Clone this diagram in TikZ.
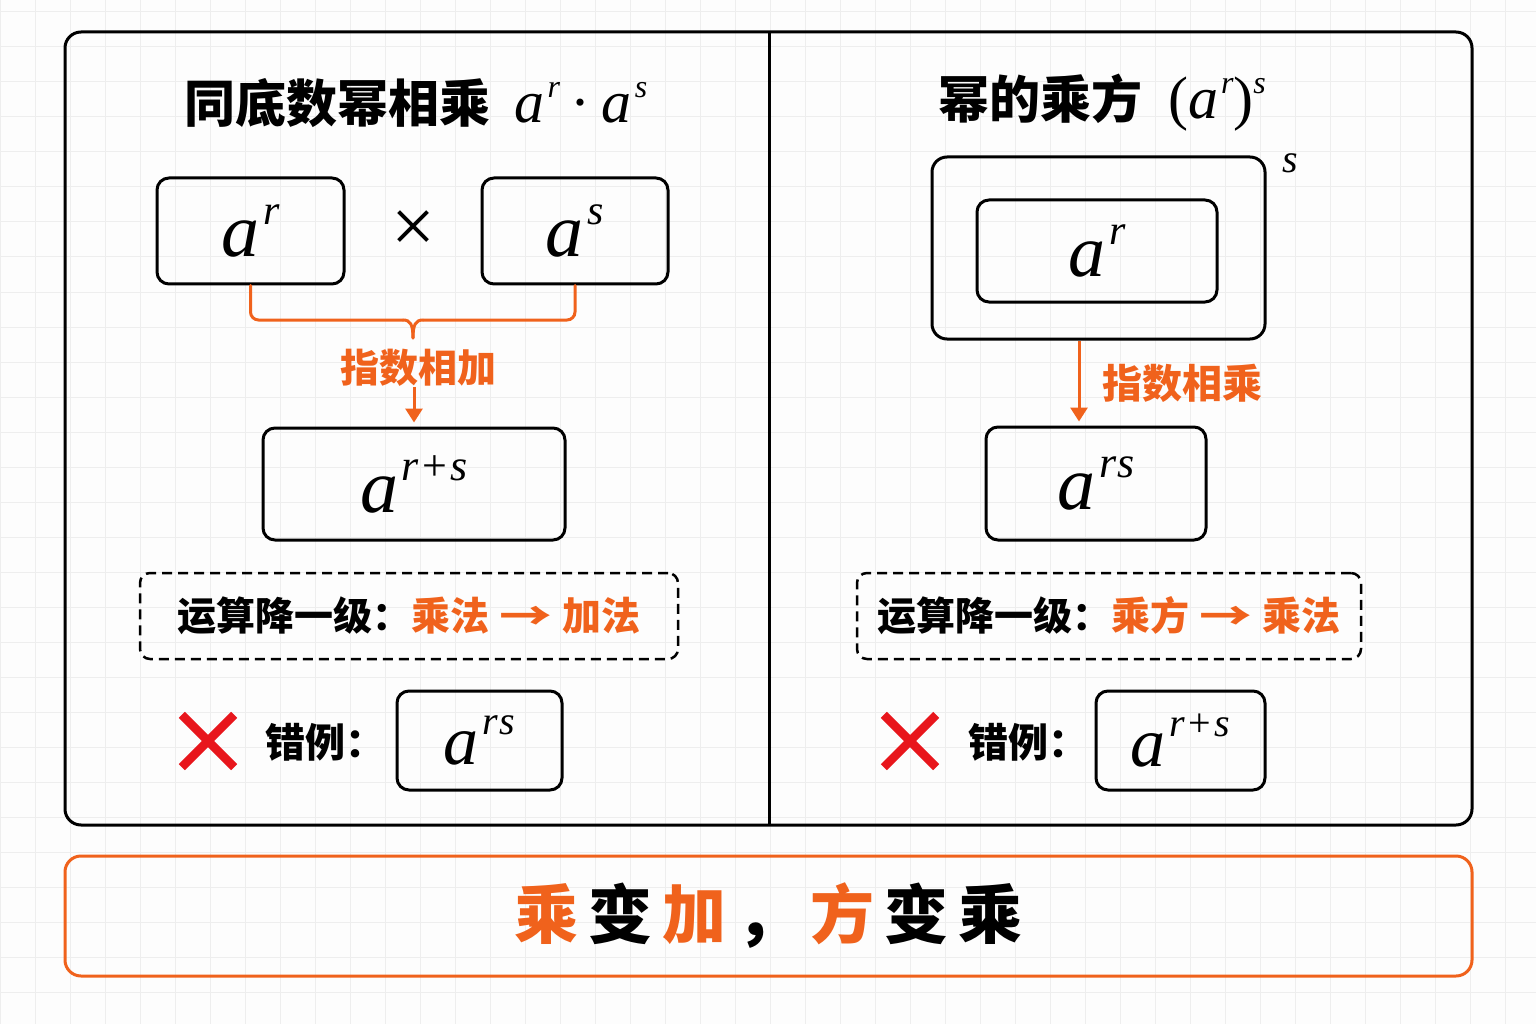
\documentclass[tikz,border=0pt]{standalone}
\usepackage{fontspec}
\usetikzlibrary{arrows.meta}
\newfontfamily\cjk{Noto Sans CJK SC}
\newfontfamily\tms{Liberation Serif}
\definecolor{orng}{RGB}{240,98,28}
\definecolor{xred}{RGB}{232,22,28}
\definecolor{gridc}{RGB}{238,238,238}
\definecolor{bgc}{RGB}{253,253,253}
\newcommand\fs[1]{\fontsize{#1}{#1}\selectfont}
\newcommand\pwr[4]{{\tms\mdseries\itshape\fs{#3}#1\hspace{0.05em}\raisebox{0.42em}{\fs{#4}#2}}}
\newcommand\rps{r\kern4pt{\upshape+}\kern3pt s}
\newcommand\rs{r\kern1.5pt s}
\newcommand\larr{\scalebox{1.35}[1]{→}}
\begin{document}
\begin{tikzpicture}[x=1pt,y=-1pt,
  mbox/.style={draw, line width=3pt, rounded corners=12pt, inner sep=0pt},
  dbox/.style={draw, line width=2.5pt, rounded corners=10pt, dash pattern=on 10pt off 6pt, inner sep=0pt},
  frame/.style={draw, line width=3pt, rounded corners=16pt},
  oline/.style={draw=orng, line width=3pt, line cap=round},
  oarrow/.style={draw=orng, line width=3pt, -{Triangle[width=17pt,length=14pt]}, shorten >=4pt},
  xmark/.style={draw=xred, line width=8.5pt},
  txt/.style={inner sep=0pt},
  ttl/.style={txt, font=\cjk\bfseries\fs{51}},
  olab/.style={txt, text=orng, font=\cjk\bfseries\fs{39}},
  dtxt/.style={font=\cjk\bfseries\fs{39}},
  etxt/.style={txt, anchor=west, font=\cjk\bfseries\fs{40}}
]
\useasboundingbox (0,0) rectangle (1536,1024);
\fill[bgc] (0,0) rectangle (1536,1024);
\foreach \i in {0,...,43} \draw[gridc, line width=1pt] ({\i*35},0) -- ({\i*35},1024);
\foreach \j in {0,...,29} \draw[gridc, line width=1pt] (0,{12+\j*35}) -- (1536,{12+\j*35});

% panels
\draw[frame] (65,32) rectangle (1472,825);
\draw[line width=3pt] (769,32) -- (769,825);

% ---------- left panel ----------
\node[ttl] (t1) at (416,103) {同底数幂相乘\hspace{24pt}\pwr{a}{r}{60}{32}\hspace{10pt}{\tms\mdseries\fs{60}·}\hspace{12pt}\pwr{a}{s}{60}{32}};
\node[mbox, minimum width=187pt, minimum height=106pt] (ar) at (250.5,231) {\pwr{a}{r}{76}{42}};
\node[txt, font=\tms\fs{78}] (times) at (413,232) {×};
\node[mbox, minimum width=186pt, minimum height=106pt] (as) at (575,231) {\pwr{a}{s}{76}{42}};
\coordinate (bm) at (413,338);
\draw[oline, rounded corners=8pt] (ar.south) |- (403,320);
\draw[oline] (403,320) .. controls (410,320) and (413,324) .. (bm);
\draw[oline, rounded corners=8pt] (as.south) |- (423,320);
\draw[oline] (423,320) .. controls (416,320) and (413,324) .. (bm);
\node[olab] (l1) at (418,368) {指数相加};
\node[mbox, minimum width=302pt, minimum height=112pt] (ars) at (414,484) {\pwr{a}{\rps}{76}{44}};
\draw[oarrow] (l1.south -| ars.north) -- (ars.north);
\node[dbox, minimum width=538pt, minimum height=86pt, dtxt] (d1) at (409,616)
  {运算降一级：{\color{orng}乘法\hspace{10pt}\larr\hspace{10pt}加法}};
\node[txt, minimum size=52pt] (x1) at (208,741) {};
\draw[xmark] (x1.north west) -- (x1.south east);
\draw[xmark] (x1.north east) -- (x1.south west);
\node[etxt] (e1) at (265,742) {错例：};
\node[mbox, minimum width=165pt, minimum height=99pt] (w1) at (479.5,740.5) {\pwr{a}{\rs}{70}{40}};

% ---------- right panel ----------
\node[ttl] (t2) at (1102,103) {幂的乘方\hspace{26pt}{\tms\mdseries\fs{60}(\pwr{a}{r}{60}{32})\raisebox{0.42em}{\itshape\fs{32}s}}};
\node[mbox, rounded corners=15pt, minimum width=333pt, minimum height=182pt] (ob) at (1098.5,248) {};
\node[txt, font=\tms\itshape\fs{40}] (sl) at (1290,163) {s};
\node[mbox, minimum width=240pt, minimum height=102pt] (ib) at (1097,251) {\pwr{a}{r}{74}{42}};
\coordinate (ra) at (1079,0);
\node[olab, font=\cjk\bfseries\fs{40}] (l2) at (1182,383) {指数相乘};
\node[mbox, minimum width=220pt, minimum height=113pt] (rs) at (1096,483.5) {\pwr{a}{\rs}{76}{44}};
\draw[oarrow] (ob.south -| ra) -- (rs.north -| ra);
\node[dbox, minimum width=504pt, minimum height=86pt, dtxt] (d2) at (1109,616)
  {运算降一级：{\color{orng}乘方\hspace{10pt}\larr\hspace{10pt}乘法}};
\node[txt, minimum size=52pt] (x2) at (910,741) {};
\draw[xmark] (x2.north west) -- (x2.south east);
\draw[xmark] (x2.north east) -- (x2.south west);
\node[etxt] (e2) at (968,742) {错例：};
\node[mbox, minimum width=169pt, minimum height=99pt] (w2) at (1180.5,740.5) {\pwr{a}{\rps}{70}{40}};

% ---------- summary ----------
\node[draw=orng, line width=3pt, rounded corners=16pt, minimum width=1407pt, minimum height=120pt, inner sep=0pt,
  font=\cjk\bfseries\fs{64}] (sum) at (768.5,916)
  {{\color{orng}乘}\hspace{10pt}变\hspace{10pt}{\color{orng}加}\hspace{10pt}，\hspace{10pt}{\color{orng}方}\hspace{10pt}变\hspace{10pt}乘};
\end{tikzpicture}
\end{document}
